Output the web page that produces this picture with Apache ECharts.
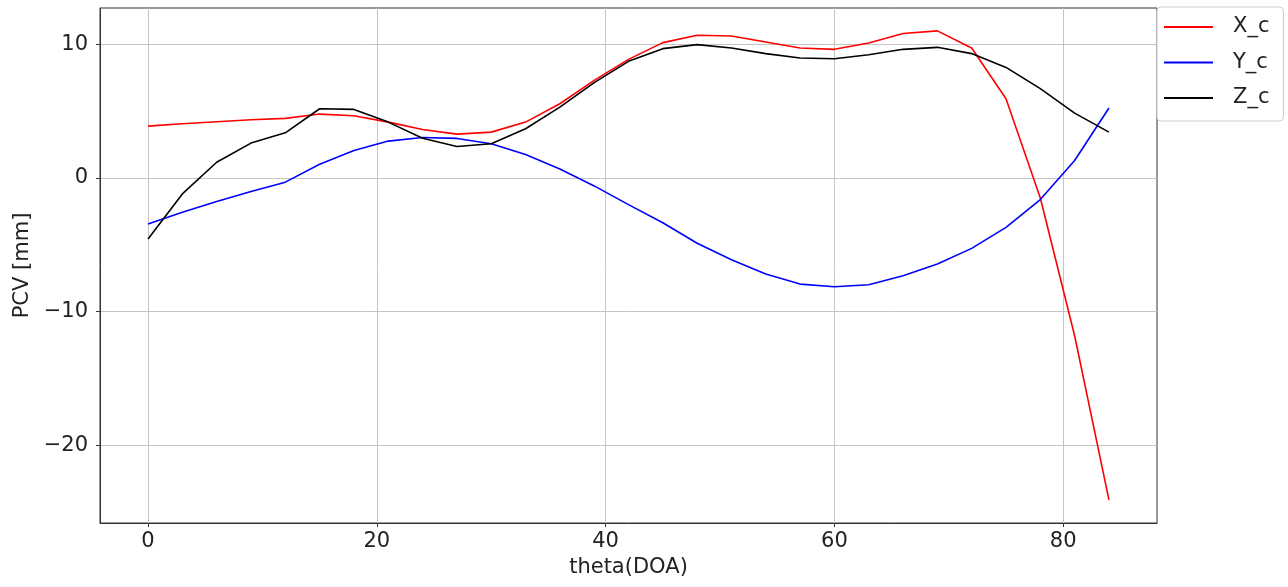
<!DOCTYPE html>
<html lang="en">
<head>
    <meta charset="UTF-8">
    <title>PCV</title>
    <script src="https://cdn.jsdelivr.net/npm/echarts@6/dist/echarts.min.js"></script>
    <style>
        html, body{
            margin: 0;
            padding: 0;
            background: #fff;
        }
        #main{
            width: 1288px;
            height: 587px;
        }
    </style>
</head>
<body>
<div id="main"></div>
<script>
    var theta = [0, 3, 6, 9, 12, 15, 18, 21, 24, 27, 30, 33, 36, 39, 42, 45, 48, 51, 54, 57, 60, 63, 66, 69, 72, 75, 78, 81, 84];
    var X_c = [3.87, 4.05, 4.2, 4.35, 4.45, 4.77, 4.64, 4.17, 3.62, 3.27, 3.42, 4.17, 5.54, 7.29, 8.86, 10.11, 10.66, 10.61, 10.16, 9.71, 9.61, 10.09, 10.79, 10.99, 9.71, 5.92, -1.5, -11.8, -24.07];
    var Y_c = [-3.45, -2.57, -1.77, -1.02, -0.32, 1.02, 2.05, 2.75, 3.02, 2.95, 2.55, 1.75, 0.67, -0.6, -2.0, -3.35, -4.89, -6.12, -7.19, -7.94, -8.14, -7.99, -7.32, -6.44, -5.27, -3.70, -1.62, 1.30, 5.22];
    var Z_c = [-4.57, -1.2, 1.17, 2.6, 3.37, 5.17, 5.12, 4.17, 2.97, 2.35, 2.55, 3.67, 5.29, 7.12, 8.71, 9.66, 9.96, 9.71, 9.29, 8.96, 8.91, 9.21, 9.61, 9.76, 9.29, 8.26, 6.67, 4.84, 3.42];
    var xTicks = [0, 20, 40, 60, 80];
    var yTicks = [-20, -10, 0, 10];

    function pairs(ys){
        return theta.map(function(t, i){ return [t, ys[i]]; });
    }
    function fmt(v){
        return v < 0 ? '\u2212' + Math.abs(v) : String(v);
    }

    var font = 'DejaVu Sans';
    var txt = '#222';
    var chart = echarts.init(document.getElementById('main'));
    chart.setOption({
        animation: false,
        grid: {
            left: 100, right: 131, top: 8, bottom: 64,
            show: true, borderColor: '#333', borderWidth: 1
        },
        legend: {
            orient: 'vertical',
            left: 1157, top: 7,
            padding: [9, 14, 12, 7],
            itemWidth: 49, itemHeight: 2, itemGap: 13.5,
            icon: 'rect',
            backgroundColor: '#fff',
            borderColor: '#cccccc', borderWidth: 1, borderRadius: 4,
            textStyle: {fontFamily: font, fontSize: 21, color: txt, lineHeight: 22, padding: [0, 0, 0, 15]},
            data: ['X_c', 'Y_c', 'Z_c']
        },
        xAxis: {
            type: 'value',
            min: -4.2, max: 88.2,
            name: 'theta(DOA)', nameLocation: 'middle', nameGap: 34,
            nameTextStyle: {fontFamily: font, fontSize: 21, color: txt},
            axisLine: {show: true, onZero: false, lineStyle: {color: '#333'}},
            axisTick: {show: true, length: 4, customValues: xTicks, lineStyle: {color: '#333'}},
            axisLabel: {customValues: xTicks, margin: 8, fontFamily: font, fontSize: 21, color: txt, formatter: fmt},
            splitLine: {show: true, lineStyle: {color: '#c4c4c4', width: 1}}
        },
        yAxis: {
            type: 'value',
            min: -25.8, max: 12.7,
            name: 'PCV [mm]', nameLocation: 'middle', nameGap: 66, nameRotate: 90,
            nameTextStyle: {fontFamily: font, fontSize: 21, color: txt},
            axisLine: {show: true, onZero: false, lineStyle: {color: '#333'}},
            axisTick: {show: true, length: 4, customValues: yTicks, lineStyle: {color: '#333'}},
            axisLabel: {customValues: yTicks, margin: 12, fontFamily: font, fontSize: 21, color: txt, formatter: fmt},
            splitLine: {show: true, lineStyle: {color: '#c4c4c4', width: 1}}
        },
        series: [
            {name: 'X_c', type: 'line', data: pairs(X_c), showSymbol: false, symbol: 'none',
                lineStyle: {color: '#ff0000', width: 1.6}, itemStyle: {color: '#ff0000'}},
            {name: 'Y_c', type: 'line', data: pairs(Y_c), showSymbol: false, symbol: 'none',
                lineStyle: {color: '#0000ff', width: 1.6}, itemStyle: {color: '#0000ff'}},
            {name: 'Z_c', type: 'line', data: pairs(Z_c), showSymbol: false, symbol: 'none',
                lineStyle: {color: '#000000', width: 1.6}, itemStyle: {color: '#000000'}}
        ]
    });
</script>
</body>
</html>
